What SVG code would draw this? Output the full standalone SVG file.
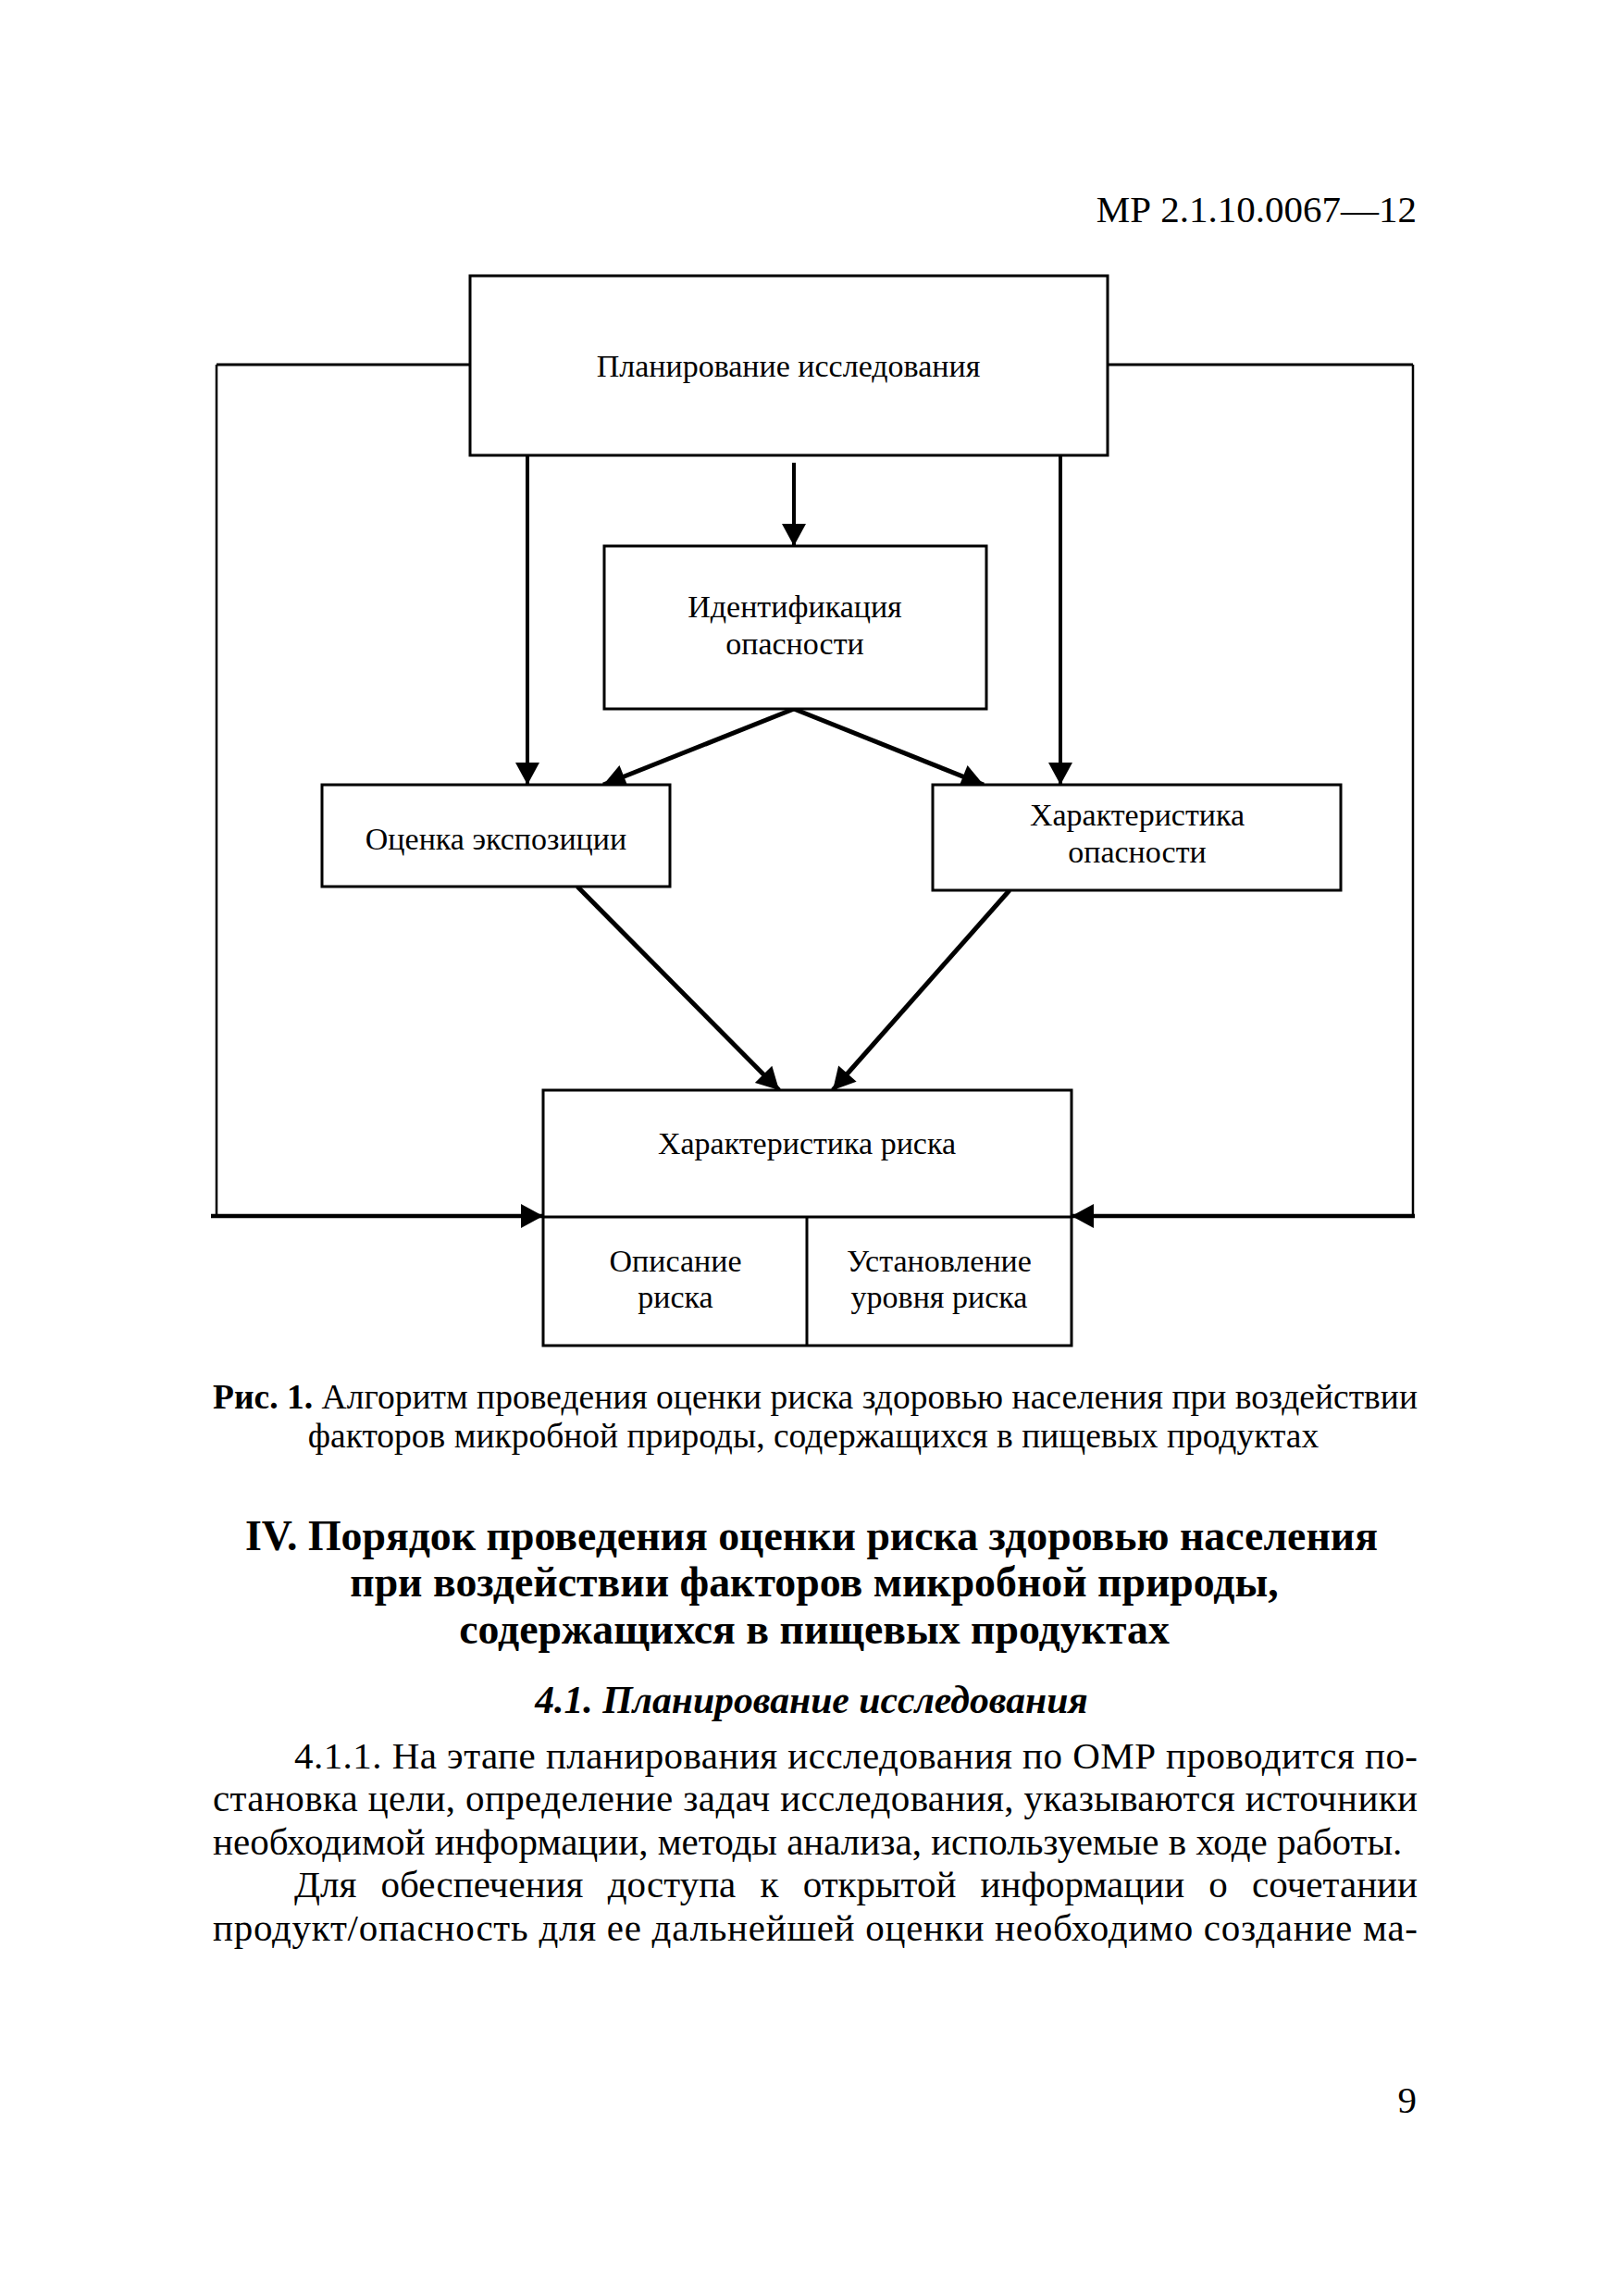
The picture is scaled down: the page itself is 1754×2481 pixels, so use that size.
<svg xmlns="http://www.w3.org/2000/svg" width="1754" height="2481" viewBox="0 0 1754 2481">
<style>
text{font-family:"Liberation Serif","Times New Roman",serif;fill:#000}
.d{font-size:34px;text-anchor:middle}
.box{fill:#fff;stroke:#000;stroke-width:3}
.cap{font-size:37.5px}
.h{font-size:45.8px;font-weight:bold;text-anchor:middle}
.sh{font-size:41.7px;font-weight:bold;font-style:italic;text-anchor:middle}
.b{font-size:41px}
.c{fill:none;stroke:#000}
</style>
<defs>
<marker id="ah" markerUnits="userSpaceOnUse" markerWidth="26" markerHeight="26" refX="24" refY="13" orient="auto" viewBox="0 0 24 26">
<path d="M0,0 L24,13 L0,26 z" fill="#000"/>
</marker>
</defs>
<rect width="1754" height="2481" fill="#fff"/>
<text x="1531" y="240" class="b" font-size="41.7" text-anchor="end">МР 2.1.10.0067—12</text>

<g id="connectors">
<polyline class="c" stroke-width="3" points="508,394 234,394"/>
<polyline class="c" stroke-width="2.5" points="234,394 234,1315"/>
<polyline class="c" stroke-width="3" points="1197,394 1527,394"/>
<polyline class="c" stroke-width="2.5" points="1527,394 1527,1315"/>
<line class="c" stroke-width="4.5" x1="228" y1="1314" x2="587" y2="1314" marker-end="url(#ah)"/>
<line class="c" stroke-width="4.5" x1="1529" y1="1314" x2="1158" y2="1314" marker-end="url(#ah)"/>
<line class="c" stroke-width="4" x1="858" y1="500" x2="858" y2="590" marker-end="url(#ah)"/>
<line class="c" stroke-width="4" x1="570" y1="492" x2="570" y2="848" marker-end="url(#ah)"/>
<line class="c" stroke-width="4" x1="1146" y1="492" x2="1146" y2="848" marker-end="url(#ah)"/>
<line class="c" stroke-width="5" x1="858" y1="766" x2="652" y2="848" marker-end="url(#ah)"/>
<line class="c" stroke-width="5" x1="858" y1="766" x2="1063" y2="848" marker-end="url(#ah)"/>
<line class="c" stroke-width="5" x1="624" y1="958" x2="842" y2="1178" marker-end="url(#ah)"/>
<line class="c" stroke-width="5" x1="1091" y1="962" x2="900" y2="1178" marker-end="url(#ah)"/>
</g>

<g id="planning">
<rect class="box" x="508" y="298" width="689" height="194"/>
<text class="d" x="852" y="407">Планирование исследования</text>
</g>
<g id="identification">
<rect class="box" x="653" y="590" width="413" height="176"/>
<text class="d" x="859" y="667">Идентификация</text>
<text class="d" x="859" y="707">опасности</text>
</g>
<g id="exposure">
<rect class="box" x="348" y="848" width="376" height="110"/>
<text class="d" x="536" y="918">Оценка экспозиции</text>
</g>
<g id="hazard">
<rect class="box" x="1008" y="848" width="441" height="114"/>
<text class="d" x="1229" y="892">Характеристика</text>
<text class="d" x="1229" y="932">опасности</text>
</g>
<g id="risk">
<rect class="box" x="587" y="1178" width="571" height="276"/>
<line x1="587" y1="1315" x2="1158" y2="1315" stroke="#000" stroke-width="3"/>
<line x1="872" y1="1315" x2="872" y2="1454" stroke="#000" stroke-width="3"/>
<text class="d" x="872" y="1247">Характеристика риска</text>
</g>
<g id="risk-description">
<text class="d" x="730" y="1374">Описание</text>
<text class="d" x="730" y="1413">риска</text>
</g>
<g id="risk-level">
<text class="d" x="1015" y="1374">Установление</text>
<text class="d" x="1015" y="1413">уровня риска</text>
</g>

<text class="cap" x="230" y="1522" textLength="1302" lengthAdjust="spacing"><tspan font-weight="bold">Рис. 1.</tspan> Алгоритм проведения оценки риска здоровью населения при воздействии</text>
<text class="cap" x="879" y="1564" text-anchor="middle">факторов микробной природы, содержащихся в пищевых продуктах</text>

<text class="h" x="877" y="1675">IV. Порядок проведения оценки риска здоровью населения</text>
<text class="h" x="880" y="1725">при воздействии факторов микробной природы,</text>
<text class="h" x="880" y="1776">содержащихся в пищевых продуктах</text>

<text class="sh" x="877" y="1851">4.1. Планирование исследования</text>

<text class="b" x="318" y="1911" textLength="1214" lengthAdjust="spacing">4.1.1. На этапе планирования исследования по ОМР проводится по-</text>
<text class="b" x="230" y="1957" textLength="1302" lengthAdjust="spacing">становка цели, определение задач исследования, указываются источники</text>
<text class="b" x="230" y="2004">необходимой информации, методы анализа, используемые в ходе работы.</text>
<text class="b" x="318" y="2050" word-spacing="16" textLength="1214" lengthAdjust="spacing">Для обеспечения доступа к открытой информации о сочетании</text>
<text class="b" x="230" y="2097" textLength="1302" lengthAdjust="spacing">продукт/опасность для ее дальнейшей оценки необходимо создание ма-</text>

<text class="b" x="1531" y="2283" font-size="41.7" text-anchor="end">9</text>
</svg>
